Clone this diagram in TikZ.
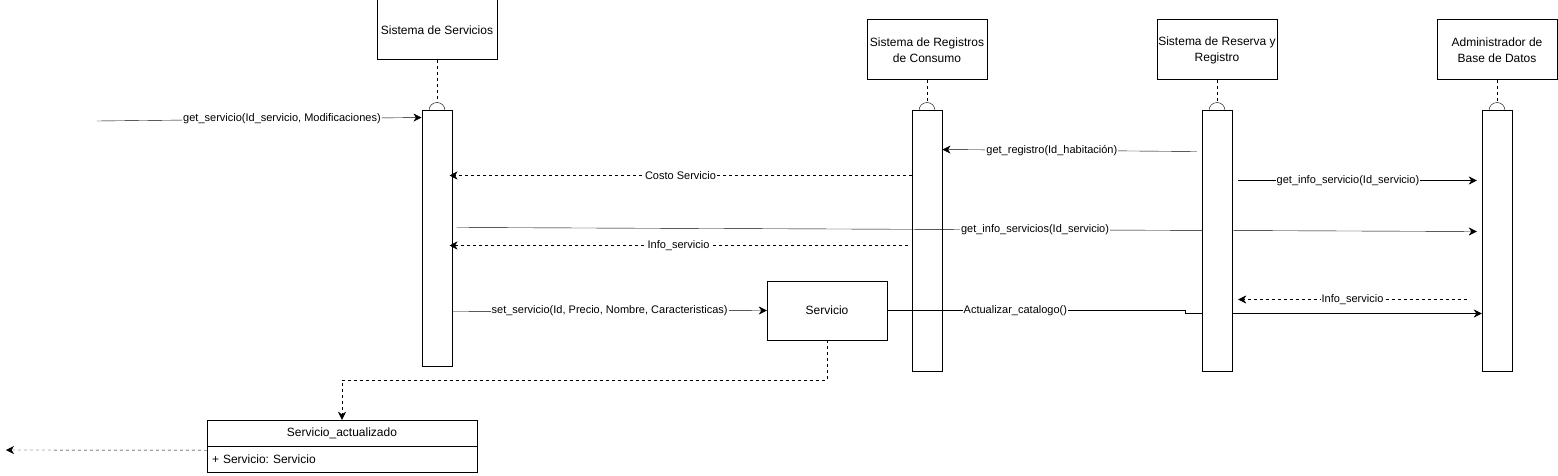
\documentclass[tikz,border=0pt]{standalone}
\usepackage{fontspec}
\setmainfont{Liberation Sans}
\frenchspacing
\usetikzlibrary{positioning, arrows.meta}
\pgfdeclarelayer{front}
\pgfsetlayers{main,front}

\begin{document}
\begin{tikzpicture}[x=1pt, y=1pt, >={Stealth[length=8pt, width=8pt, inset=2.5pt]}, line width=1pt,
    head/.style={draw, minimum width=120pt, minimum height=60pt, inner sep=1pt, align=center, font=\fontsize{12}{16}\selectfont},
    bar/.style={draw, fill=white, minimum width=30pt, inner sep=0pt},
    lifeline/.style={dash pattern=on 3pt off 3pt},
    reply/.style={->, dash pattern=on 3pt off 3pt},
    msg/.style={fill=white, inner sep=1pt, font=\fontsize{11}{13}\selectfont},
    classbox/.style={draw, minimum width=270pt, minimum height=26pt, inner sep=0pt, font=\fontsize{12}{14}\selectfont}]
    \useasboundingbox (0,0) rectangle (1558,-476);

    % Nodes
    \node[head] (ss) at (437,-30) {Sistema de Servicios};
    \node[head] (rc) at (927,-50) {Sistema de Registros\\de Consumo};
    \node[head] (rr) at (1217,-50) {Sistema de Reserva y\\Registro};
    \node[head] (ad) at (1497,-50) {Administrador de\\Base de Datos};

    \node[bar, minimum height=255pt, below=50pt of ss] (bs) {};
    \node[bar, minimum height=260pt, below=30pt of rc] (brc) {};
    \begin{pgfonlayer}{front}
    \node[bar, minimum height=260pt, below=30pt of rr] (brr) {};
    \end{pgfonlayer}
    \node[bar, minimum height=260pt, below=30pt of ad] (bad) {};

    \node[head, minimum height=59pt] (sv) at (827,-310.5) {Servicio};
    \node[classbox] (sa) at (342,-433) {Servicio\_actualizado};
    \node[classbox, below=0pt of sa, text width=260pt, align=left] (saa) {+ Servicio: Servicio};

    \coordinate (start) at (97,-121);
    \coordinate (exit) at (6,-450);

    % Lifelines
    \foreach \h/\b in {ss/bs, rc/brc, rr/brr, ad/bad} {
        \draw[lifeline] (\h) -- ([yshift=8pt]\b.north);
        \draw (\b.north) ++(-8,0) arc[start angle=180, end angle=0, radius=8];
    }

    % Paths
    \draw[->] (start) -- node[msg, pos=0.57] {get\_servicio(Id\_servicio, Modificaciones)} ([yshift=-7pt]bs.north west);
    \draw[->] ([xshift=-5pt,yshift=-41pt]brr.north west) -- node[msg, pos=0.57] {get\_registro(Id\_habitación)} ([yshift=-39pt]brc.north east);
    \draw[->] ([xshift=6pt,yshift=-70pt]brr.north east) -- node[msg, pos=0.46] {get\_info\_servicio(Id\_servicio)} ([xshift=-5pt,yshift=-70pt]bad.north west);
    \draw[reply] ([yshift=-65pt]brc.north west) -- node[msg] {Costo Servicio} ([xshift=-3pt,yshift=-65pt]bs.north east);
    \draw[->] ([xshift=4pt,yshift=-117pt]bs.north east) -- node[msg, pos=0.567] {get\_info\_servicios(Id\_servicio)} ([xshift=-5pt,yshift=-121pt]bad.north west);
    \draw[reply] ([xshift=-4pt,yshift=-135pt]brc.north west) -- node[msg] {Info\_servicio} ([xshift=-3pt,yshift=-135pt]bs.north east);
    \draw[reply] ([xshift=-15pt,yshift=-189pt]bad.north west) -- node[msg] {Info\_servicio} ([xshift=6pt,yshift=-189pt]brr.north east);
    \draw[->] ([yshift=-201pt]bs.north east) -- node[msg] {set\_servicio(Id, Precio, Nombre, Caracteristicas)} (sv.west);
    \draw[->] (sv.east) -- node[msg, pos=0.43] {Actualizar\_catalogo()} ++(298,0) |- ([yshift=-203pt]bad.north west);

    \draw[reply] (sv.south) -- ++(0,-40) -| (sa.north);
    \draw[reply] ([yshift=-4pt]sa.south west) -- (exit);
\end{tikzpicture}
\end{document}
